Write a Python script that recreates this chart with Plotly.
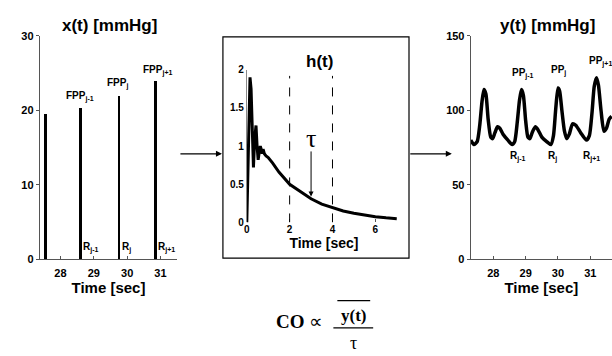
import plotly.graph_objects as go

W, H = 612, 356
def px(x): return x / W
def py(y): return 1 - y / H

# ---------------- data ----------------
# x(t): first-pass pressure impulses
x_times = [27.55, 28.6, 29.75, 30.85]
x_vals = [19.5, 20.3, 21.9, 23.9]
x_ticks = [28, 29, 30, 31]
x_yticks = [0, 10, 20, 30]

# h(t): impulse response
h_t = [0.0, 0.05, 0.1, 0.15, 0.2, 0.25, 0.31, 0.37, 0.43, 0.48, 0.53, 0.58, 0.63, 0.68,
       0.72, 0.76, 0.82, 0.9, 1.0, 1.2, 1.5, 2.0, 2.5, 3.0, 3.5, 4.0, 4.5, 5.0, 5.5, 6.0, 6.5, 7.0]
h_v = [0.0, 0.6, 1.5, 1.9, 1.75, 1.1, 0.72, 1.1, 1.27, 1.0, 0.82, 0.92, 1.0, 0.95,
       0.9, 0.96, 0.9, 0.87, 0.85, 0.78, 0.66, 0.5, 0.4, 0.31, 0.24, 0.19, 0.15, 0.12,
       0.095, 0.075, 0.06, 0.05]
h_xticks = [0, 2, 4, 6]
h_yticks = [0, 0.5, 1, 1.5, 2]
h_yticklabels = ["0", "0.5", "1", "1.5", "2"]
tau_t = 3.0

# y(t): arterial pressure
y_t = [27.3, 27.4, 27.5, 27.58, 27.65, 27.71, 27.77, 27.84, 27.92, 27.98, 28.05, 28.13, 28.2,
       28.3, 28.45, 28.58, 28.66, 28.74, 28.81, 28.87, 28.93, 29.0, 29.07, 29.13, 29.2, 29.3,
       29.38, 29.5, 29.65, 29.78, 29.86, 29.93, 30.0, 30.05, 30.12, 30.2, 30.27, 30.35, 30.45,
       30.55, 30.7, 30.88, 30.97, 31.05, 31.12, 31.19, 31.25, 31.33, 31.42, 31.5, 31.58, 31.66]
y_v = [80, 77, 79, 90, 106, 114, 111, 94, 82, 81, 85, 89, 88, 84, 80, 77, 79, 92, 107, 114,
       110, 93, 82, 81, 85, 89, 87, 82, 79, 77, 83, 101, 115, 113, 100, 86, 81, 84, 91, 90, 85,
       80, 83, 98, 116, 122, 117, 100, 86, 88, 94, 96]
y_ticks = [28, 29, 30, 31]
y_yticks = [0, 50, 100, 150]

SANS = "Liberation Sans, Arial, sans-serif"
SERIF = "Liberation Serif, Times New Roman, serif"
tickf = dict(family=SANS, size=11, color="black", weight="bold")
titf = dict(family=SANS, size=15, color="black", weight="bold")

fig = go.Figure()

# left: x(t)
fig.add_trace(go.Bar(x=x_times, y=x_vals, width=0.08, marker=dict(color="black", line=dict(width=0)),
                     xaxis="x", yaxis="y", hoverinfo="skip"))
# middle: h(t)
fig.add_trace(go.Scatter(x=h_t, y=h_v, mode="lines", line=dict(color="black", width=3),
                         xaxis="x2", yaxis="y2", hoverinfo="skip"))
# right: y(t)
fig.add_trace(go.Scatter(x=y_t, y=y_v, mode="lines", line=dict(color="black", width=3.5, shape="spline", smoothing=0.6),
                         xaxis="x3", yaxis="y3", hoverinfo="skip"))

axcommon = dict(showgrid=False, zeroline=False, tickfont=tickf, linecolor="#555", linewidth=1,
                tickcolor="#555", ticklen=3)

fig.update_layout(
    width=W, height=H, margin=dict(l=0, r=0, t=0, b=0),
    paper_bgcolor="white", plot_bgcolor="rgba(0,0,0,0)", showlegend=False,
    bargap=0,
    xaxis=dict(domain=[px(37), px(175)], range=[27.38, 31.5], tickvals=x_ticks, showline=True,
               ticks="inside", anchor="y", ticklabelstandoff=4,
               title=dict(text="Time [sec]", font=titf, standoff=3), **axcommon),
    yaxis=dict(domain=[py(262), py(31)], range=[0, 30], tickvals=x_yticks, showline=True,
               ticks="outside", anchor="x", **axcommon),
    xaxis2=dict(domain=[px(245), px(400)], range=[0, 7.2], tickvals=h_xticks, showline=False,
                ticks="inside", anchor="y2",
                title=dict(text="Time [sec]", font=dict(family=SANS, size=14, color="black", weight="bold"),
                           standoff=1),
                **{k: v for k, v in axcommon.items() if k != "tickfont"},
                tickfont=dict(family=SANS, size=10, color="black", weight="bold")),
    yaxis2=dict(domain=[py(224), py(66)], range=[0, 2], tickvals=h_yticks, ticktext=h_yticklabels,
                showline=True, ticks="", anchor="x2", linecolor="#888",
                showgrid=False, zeroline=False, linewidth=1,
                tickfont=dict(family=SANS, size=10, color="black", weight="bold")),
    xaxis3=dict(domain=[px(470), 1.0], range=[27.3, 31.67], tickvals=y_ticks, showline=True,
                ticks="inside", anchor="y3", ticklabelstandoff=4,
                title=dict(text="Time [sec]", font=titf, standoff=3), **axcommon),
    yaxis3=dict(domain=[py(262), py(31)], range=[0, 150], tickvals=y_yticks, showline=True,
                ticks="outside", anchor="x3", **axcommon),
)

ann = []
def lab(text, x, y, xref, yref, size=10, family=SANS, bold=True, **kw):
    ann.append(dict(text=text, x=x, y=y, xref=xref, yref=yref, showarrow=False,
                    xanchor="center", yanchor="middle",
                    font=dict(family=family, size=size, color="black", weight="bold" if bold else "normal"), **kw))

# titles
lab("x(t) [mmHg]", px(107), py(20), "paper", "paper", size=17)
lab("h(t)", px(318), py(57), "paper", "paper", size=17)
lab("y(t) [mmHg]", px(547), py(20), "paper", "paper", size=17)

# x(t) labels
lab("FPP<sub>j-1</sub>", 28.6, 21.9, "x", "y")
lab("FPP<sub>j</sub>", 29.72, 23.6, "x", "y")
lab("FPP<sub>j+1</sub>", 30.9, 25.4, "x", "y")
lab("R<sub>j-1</sub>", 28.93, 1.6, "x", "y")
lab("R<sub>j</sub>", 29.98, 1.6, "x", "y")
lab("R<sub>j+1</sub>", 31.17, 1.6, "x", "y")

# y(t) labels
lab("PP<sub>j-1</sub>", 28.93, 125, "x3", "y3")
lab("PP<sub>j</sub>", 30.03, 126.5, "x3", "y3")
lab("PP<sub>j+1</sub>", 31.3, 133, "x3", "y3")
lab("R<sub>j-1</sub>", 28.77, 69, "x3", "y3")
lab("R<sub>j</sub>", 29.83, 69, "x3", "y3")
lab("R<sub>j+1</sub>", 31.05, 69, "x3", "y3")

# tau
lab("τ", tau_t, 1.1, "x2", "y2", size=26, family=SERIF, bold=False)
ann.append(dict(x=tau_t, y=0.34, ax=tau_t, ay=0.95, xref="x2", yref="y2", axref="x2", ayref="y2",
                showarrow=True, arrowhead=2, arrowsize=1, arrowwidth=1, arrowcolor="black", text=""))

# flow arrows
ann.append(dict(x=px(220), y=py(153), ax=-43, ay=0, xref="paper", yref="paper",
                axref="pixel", ayref="pixel", showarrow=True, arrowhead=2, arrowsize=1,
                arrowwidth=1.2, arrowcolor="black", text=""))
ann.append(dict(x=px(451), y=py(153), ax=-43, ay=0, xref="paper", yref="paper",
                axref="pixel", ayref="pixel", showarrow=True, arrowhead=2, arrowsize=1,
                arrowwidth=1.2, arrowcolor="black", text=""))

# formula
lab("<b>CO</b> ∝", px(298), py(326), "paper", "paper", size=19, family=SERIF, bold=False)
lab("y(t)", px(352), py(320), "paper", "paper", size=17, family=SERIF, bold=True)
lab("τ", px(352), py(349), "paper", "paper", size=18, family=SERIF, bold=False)

fig.update_layout(annotations=ann)

shapes = [
    # middle box
    dict(type="rect", xref="paper", yref="paper", x0=px(221), x1=px(408), y0=py(261), y1=py(32),
         line=dict(color="black", width=1.2), fillcolor="rgba(0,0,0,0)", layer="below"),
    # dashed lines
    dict(type="line", xref="x2", yref="y2", x0=2, x1=2, y0=0, y1=1.92,
         line=dict(color="black", width=1, dash="dash")),
    dict(type="line", xref="x2", yref="y2", x0=4, x1=4, y0=0, y1=1.92,
         line=dict(color="black", width=1, dash="dash")),
    # fraction bar and overline
    dict(type="line", xref="paper", yref="paper", x0=px(332), x1=px(372), y0=py(333), y1=py(333),
         line=dict(color="black", width=1.3)),
    dict(type="line", xref="paper", yref="paper", x0=px(336), x1=px(369), y0=py(305), y1=py(305),
         line=dict(color="black", width=1.2)),
]
fig.update_layout(shapes=shapes)

fig.write_html("out.html", config={"displayModeBar": False},
               post_script="document.body.style.margin='0';document.body.style.overflow='hidden';"
                           "document.documentElement.style.overflow='hidden';")
